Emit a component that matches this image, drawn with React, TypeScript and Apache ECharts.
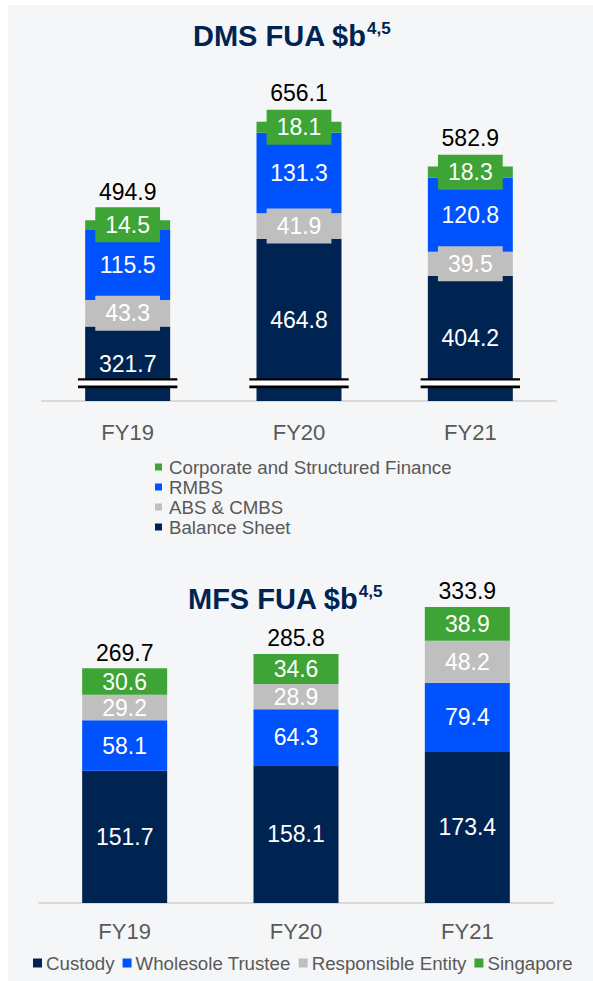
import React, { useEffect, useRef } from "react";
import * as echarts from "echarts";

const categories = ["FY19", "FY20", "FY21"];

// DMS FUA $b
const dmsBalanceSheet = [321.7, 464.8, 404.2];
const dmsAbsCmbs = [43.3, 41.9, 39.5];
const dmsRmbs = [115.5, 131.3, 120.8];
const dmsCorporate = [14.5, 18.1, 18.3];
const dmsTotals = ["494.9", "656.1", "582.9"];
const dmsAxisMin = 200;
const dmsAxisMax = 700;

// MFS FUA $b
const mfsCustody = [151.7, 158.1, 173.4];
const mfsWholesole = [58.1, 64.3, 79.4];
const mfsResponsible = [29.2, 28.9, 48.2];
const mfsSingapore = [30.6, 34.6, 38.9];
const mfsTotals = ["269.7", "285.8", "333.9"];
const mfsAxisMin = 0;
const mfsAxisMax = 400;

const NAVY = "#002452";
const BLUE = "#0052FF";
const GREY = "#BFBFBF";
const GREEN = "#3DA435";
const TEXT_GREY = "#595959";
const FONT = "'Liberation Sans', Arial, sans-serif";

export default function App() {
  const ref = useRef<HTMLDivElement>(null);

  useEffect(() => {
    if (!ref.current) return;
    const chart = echarts.init(ref.current, undefined, { renderer: "svg" });

    const segLabel = (color: string, boxed: boolean) => ({
      show: true,
      position: "inside",
      color: "#ffffff",
      fontSize: 23,
      fontFamily: FONT,
      formatter: (p: any) => Number(p.value).toFixed(1),
      ...(boxed ? { backgroundColor: color, padding: [6, 10] } : {}),
    });

    const seg = (
      name: string,
      data: number[],
      color: string,
      idx: number,
      stack: string,
      boxed: boolean
    ) => ({
      name,
      type: "bar",
      stack,
      xAxisIndex: idx,
      yAxisIndex: idx,
      data,
      barWidth: 85,
      clip: true,
      itemStyle: { color },
      label: segLabel(color, boxed),
      emphasis: { disabled: true },
    });

    const totalSeries = (totals: string[], idx: number, stack: string, dist: number) => ({
      name: "total" + idx,
      type: "bar",
      stack,
      xAxisIndex: idx,
      yAxisIndex: idx,
      data: categories.map(() => 0),
      barWidth: 85,
      itemStyle: { color: "transparent" },
      label: {
        show: true,
        position: "top",
        distance: dist,
        color: "#000000",
        fontSize: 23,
        fontFamily: FONT,
        formatter: (p: any) => totals[p.dataIndex],
      },
      emphasis: { disabled: true },
    });

    const xAxisBase = (gridIndex: number, margin: number) => ({
      type: "category",
      gridIndex,
      data: categories,
      axisLine: { show: true, lineStyle: { color: "#D9D9D9", width: 2 } },
      axisTick: { show: false },
      axisLabel: { color: TEXT_GREY, fontSize: 22, fontFamily: FONT, margin },
    });

    const titleRich = {
      t: { fontSize: 29, fontWeight: "bold", color: NAVY, fontFamily: FONT, lineHeight: 30, verticalAlign: "bottom" },
      s: { fontSize: 17, fontWeight: "bold", color: NAVY, fontFamily: FONT, lineHeight: 24, verticalAlign: "top", padding: [0, 0, 0, 0] },
    };

    const legendText = { color: TEXT_GREY, fontSize: 18.7, lineHeight: 20, fontFamily: FONT };

    chart.setOption({
      animation: false,
      backgroundColor: "transparent",
      textStyle: { fontFamily: FONT },
      title: [
        {
          text: "{t|DMS FUA $b}{s|4,5}",
          left: 193,
          top: 20,
          padding: 0,
          textStyle: { rich: titleRich },
        },
        {
          text: "{t|MFS FUA $b}{s|4,5}",
          left: 188,
          top: 583,
          padding: 0,
          textStyle: { rich: titleRich },
        },
      ],
      legend: [
        {
          orient: "vertical",
          left: 155,
          top: 457,
          padding: 0,
          itemGap: 0,
          itemWidth: 7,
          itemHeight: 7,
          icon: "rect",
          selectedMode: false,
          data: ["Corporate and Structured Finance", "RMBS", "ABS & CMBS", "Balance Sheet"],
          textStyle: { ...legendText, padding: [0, 0, 0, 2] },
        },
        {
          orient: "horizontal",
          left: 33,
          top: 953,
          padding: 0,
          itemGap: 8,
          itemWidth: 9,
          itemHeight: 9,
          icon: "rect",
          selectedMode: false,
          data: ["Custody", "Wholesole Trustee", "Responsible Entity", "Singapore"],
          textStyle: { ...legendText, padding: [0, 0, 0, -1] },
        },
      ],
      grid: [
        { left: 42, width: 514, top: 94.75, height: 306.25 },
        { left: 39, width: 514, top: 554.6, height: 348.4 },
      ],
      xAxis: [xAxisBase(0, 20), xAxisBase(1, 17)],
      yAxis: [
        { type: "value", gridIndex: 0, min: dmsAxisMin, max: dmsAxisMax, show: false, splitLine: { show: false } },
        { type: "value", gridIndex: 1, min: mfsAxisMin, max: mfsAxisMax, show: false, splitLine: { show: false } },
      ],
      series: [
        seg("Balance Sheet", dmsBalanceSheet, NAVY, 0, "dms", true),
        seg("ABS & CMBS", dmsAbsCmbs, GREY, 0, "dms", true),
        seg("RMBS", dmsRmbs, BLUE, 0, "dms", true),
        seg("Corporate and Structured Finance", dmsCorporate, GREEN, 0, "dms", true),
        totalSeries(dmsTotals, 0, "dms", 17),
        {
          name: "axisBreak",
          type: "custom",
          xAxisIndex: 0,
          yAxisIndex: 0,
          z: 10,
          silent: true,
          data: categories.map((c) => [c, dmsAxisMin]),
          encode: { x: 0, y: 1 },
          renderItem: (params: any, api: any) => {
            const base = api.coord([api.value(0), api.value(1)]);
            const w = api.size([1, 0])[0] * 0.58;
            const x0 = base[0] - w / 2;
            const y = base[1];
            return {
              type: "group",
              children: [
                { type: "rect", shape: { x: x0, y: y - 21, width: w, height: 6 }, style: { fill: "#ffffff" } },
                { type: "rect", shape: { x: x0, y: y - 22.8, width: w, height: 2.4 }, style: { fill: "#000000" } },
                { type: "rect", shape: { x: x0, y: y - 15.4, width: w, height: 2.6 }, style: { fill: "#000000" } },
              ],
            };
          },
        },
        seg("Custody", mfsCustody, NAVY, 1, "mfs", false),
        seg("Wholesole Trustee", mfsWholesole, BLUE, 1, "mfs", false),
        seg("Responsible Entity", mfsResponsible, GREY, 1, "mfs", false),
        seg("Singapore", mfsSingapore, GREEN, 1, "mfs", false),
        totalSeries(mfsTotals, 1, "mfs", 4),
      ],
    });

    return () => chart.dispose();
  }, []);

  return (
    <div style={{ position: "absolute", left: 0, top: 0, width: 593, height: 981, background: "#ffffff", overflow: "hidden" }}>
      <div style={{ position: "absolute", left: 8, top: 5, right: 0, bottom: 0, background: "#F5F6F8" }} />
      <div ref={ref} style={{ position: "absolute", left: 0, top: 0, width: 593, height: 981 }} />
    </div>
  );
}
